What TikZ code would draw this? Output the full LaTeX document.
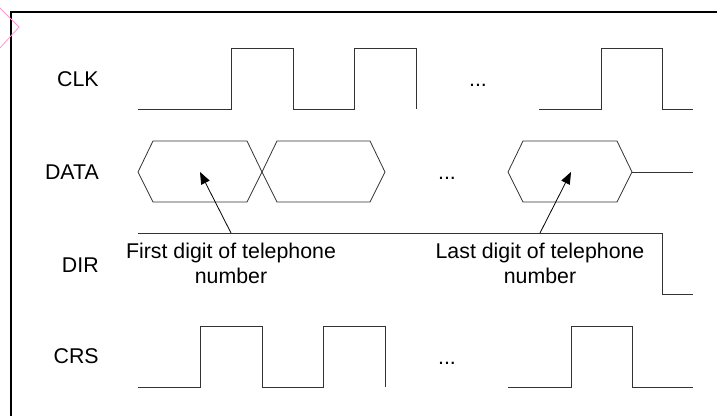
\documentclass[tikz,border=0pt]{standalone}
\usepackage{fontspec}
\setmainfont{Liberation Sans}
\usetikzlibrary{arrows.meta, positioning}
\definecolor{marker}{RGB}{255,150,210}
\tikzset{
  wave/.style={draw=black!80, line width=0.6pt},
  lbl/.style={font=\fontsize{16}{18.75}\selectfont, inner sep=0pt},
  note/.style={lbl, align=center},
  arr/.style={-{Triangle[length=9pt, width=7pt]}, line width=0.6pt},
}

\begin{document}
\begin{tikzpicture}[x=0.75pt, y=-0.75pt]
    \useasboundingbox (0,0) rectangle (717,416);
    \draw[line width=1.5pt] (11,416) -- (11,12) -- (717,12);
    \draw[marker, line width=0.6pt] (0,8) -- (19,27) -- (0,48);
    % signal names
    \node[lbl, anchor=east] (clk) at (99,79) {CLK};
    \node[lbl, anchor=east] (data) at (99,172) {DATA};
    \node[lbl, anchor=east] (dir) at (99,265) {DIR};
    \node[lbl, anchor=east] (crs) at (99,356) {CRS};
    % CLK
    \draw[wave] (138,109) -| (231,48) -| (293,109) -| (354,48) -| (416,109);
    \node[lbl, anchor=base] (clkdots) at (478,87) {...};
    \draw[wave] (539,109) -| (601,48) -| (662,109) -- (693,109);
    % DATA
    \draw[wave] (138,172) -- (153,141) -- (247,141) -- (262,172) -- (247,202) -- (153,202) -- cycle;
    \draw[wave] (262,172) -- (277,141) -- (370,141) -- (385,172) -- (370,202) -- (277,202) -- cycle;
    \node[lbl, anchor=base] (datadots) at (447,180) {...};
    \draw[wave] (508,172) -- (523,141) -- (617,141) -- (632,172) -- (617,202) -- (523,202) -- cycle;
    \draw[wave] (632,172) -- (693,172);
    % DIR
    \draw[wave] (138,233) -| (662,294) -- (693,294);
    \coordinate (firstpt) at (231,233);
    \coordinate (lastpt) at (540,233);
    \coordinate (firsttip) at (200,172);
    \coordinate (lasttip) at (571,172);
    \draw[arr] (firstpt) -- (firsttip);
    \draw[arr] (lastpt) -- (lasttip);
    \node[note, below=7.5pt of firstpt] (firstlbl) {First digit of telephone\\number};
    \node[note, below=7.5pt of lastpt] (lastlbl) {Last digit of telephone\\number};
    % CRS
    \draw[wave] (138,387) -| (200,326) -| (262,387) -| (323,326) -| (385,387);
    \node[lbl, anchor=base] (crsdots) at (447,364) {...};
    \draw[wave] (508,387) -| (571,326) -| (632,387) -- (693,387);
\end{tikzpicture}
\end{document}
